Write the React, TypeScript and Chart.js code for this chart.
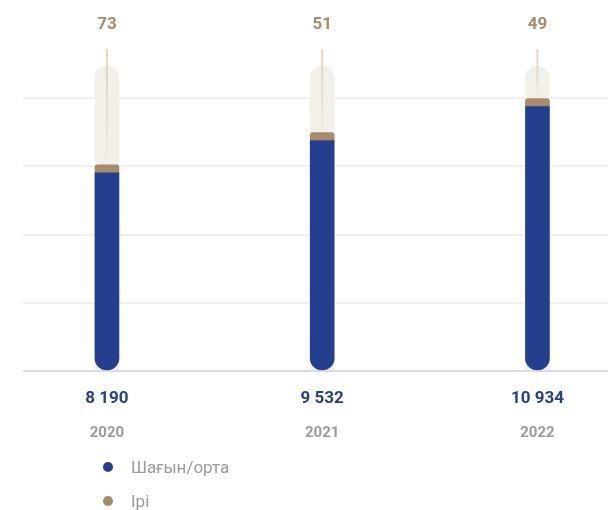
import { useEffect, useRef } from "react";
import { Chart, registerables } from "chart.js";

Chart.register(...registerables);

const years = ["2020", "2021", "2022"];
const smallMedium = [8190, 9532, 10934];
const large = [73, 51, 49];
const trackValues = [12600, 12600, 12600];
const seriesNames = ["Шағын/орта", "Ірі"];
const gridStep = 2820;
const axisMax = 14100;

const BLUE = "#253f8f";
const BROWN = "#a88b6b";
const TRACK = "#f3f0e9";
const GRAY = "#9b9b9b";
const seriesColors = [BLUE, BROWN];

const fmt = (v: number) => String(v).replace(/\B(?=(\d{3})+(?!\d))/g, " ");

const labelPlugin = {
  id: "barLabels",
  afterDatasetsDraw(chart: any) {
    const ctx = chart.ctx;
    const { top, bottom } = chart.chartArea;
    const blueMeta = chart.getDatasetMeta(0);
    const brownMeta = chart.getDatasetMeta(1);
    ctx.save();
    blueMeta.data.forEach((el: any, i: number) => {
      const x = el.x;
      const brownTop = brownMeta.data[i].y;
      const y0 = top + 19;
      const g = ctx.createLinearGradient(0, y0, 0, brownTop);
      g.addColorStop(0, "rgba(226,212,197,1)");
      g.addColorStop(0.6, "rgba(226,212,197,0.7)");
      g.addColorStop(1, "rgba(226,212,197,0)");
      ctx.strokeStyle = g;
      ctx.lineWidth = 2;
      ctx.beginPath();
      ctx.moveTo(x, y0);
      ctx.lineTo(x, brownTop - 1);
      ctx.stroke();

      ctx.textAlign = "center";
      ctx.textBaseline = "middle";
      ctx.fillStyle = BROWN;
      ctx.font = "bold 17px Roboto";
      ctx.fillText(String(large[i]), x, top - 5);

      ctx.fillStyle = BLUE;
      ctx.font = "bold 17px Roboto";
      ctx.fillText(fmt(smallMedium[i]), x, bottom + 28);

      ctx.fillStyle = GRAY;
      ctx.font = "bold 15px Roboto";
      ctx.fillText(years[i], x, bottom + 62);
    });
    ctx.restore();
  },
};

export default function App() {
  const ref = useRef<HTMLCanvasElement>(null);
  useEffect(() => {
    if (!ref.current) return;
    const chart = new Chart(ref.current, {
      type: "bar",
      data: {
        datasets: [
          {
            label: seriesNames[0],
            data: years.map((_, i) => ({ x: i, y: smallMedium[i] })),
            backgroundColor: BLUE,
            stack: "a",
            barThickness: 24,
            grouped: false,
            borderSkipped: false,
            borderRadius: { topLeft: 0, topRight: 0, bottomLeft: 12, bottomRight: 12 },
            order: 0,
          },
          {
            label: seriesNames[1],
            data: years.map((_, i) => ({ x: i, y: large[i] })),
            backgroundColor: BROWN,
            stack: "a",
            barThickness: 24,
            grouped: false,
            minBarLength: 8,
            borderSkipped: false,
            borderRadius: { topLeft: 3, topRight: 3, bottomLeft: 0, bottomRight: 0 },
            order: 1,
          },
          {
            label: "track",
            data: years.map((_, i) => ({ x: i, y: trackValues[i] })),
            backgroundColor: TRACK,
            stack: "bg",
            barThickness: 24,
            grouped: false,
            borderRadius: { topLeft: 12, topRight: 12, bottomLeft: 0, bottomRight: 0 },
            order: 5,
          },
        ] as any,
      },
      options: {
        animation: false,
        responsive: false,
        layout: { padding: { left: 23, right: 0, top: 30, bottom: 139 } },
        plugins: { legend: { display: false }, tooltip: { enabled: false } },
        scales: {
          x: {
            type: "linear",
            min: -0.39,
            max: 2.3278,
            offset: false,
            display: false,
          },
          y: {
            stacked: true,
            min: 0,
            max: axisMax,
            ticks: { display: false, stepSize: gridStep },
            border: { display: false },
            grid: {
              drawTicks: false,
              lineWidth: 2,
              color: (c: any) =>
                c.tick.value === 0 ? "#d8d8e8" : c.tick.value >= axisMax ? "rgba(0,0,0,0)" : "#efeff6",
            },
          },
        },
      } as any,
      plugins: [labelPlugin],
    });
    return () => chart.destroy();
  }, []);

  return (
    <div style={{ position: "fixed", left: 0, top: 0, width: 608, height: 510, background: "#fff" }}>
      <canvas ref={ref} width={608} height={510} style={{ position: "absolute", left: 0, top: 0 }} />
      <div style={{ position: "absolute", left: 103, top: 450, fontFamily: "Roboto", fontSize: 17, color: GRAY }}>
        {seriesNames.map((n, i) => (
          <div key={n} style={{ display: "flex", alignItems: "center", height: 34 }}>
            <span
              style={{
                display: "inline-block",
                width: 10,
                height: 10,
                borderRadius: 5,
                background: seriesColors[i],
                marginRight: 18,
              }}
            />
            <span>{n}</span>
          </div>
        ))}
      </div>
    </div>
  );
}
